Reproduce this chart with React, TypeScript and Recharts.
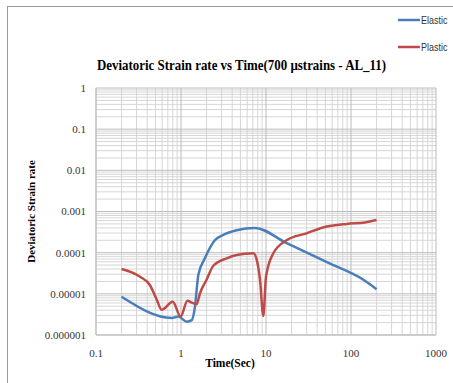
import React from 'react';
import { LineChart, Line, XAxis, YAxis, CartesianGrid, Legend, Label } from 'recharts';

const elasticX = [0.2, 0.78, 0.93, 1.17, 1.34, 1.46, 1.6, 1.91, 2.5, 3.15, 4.5, 7.4, 17.5, 56, 140, 200];
const elasticY = [8.5e-6, 2.6e-6, 2.8e-6, 2.1e-6, 2.3e-6, 4.9e-6, 2.9e-5, 7.3e-5, 2.0e-4, 2.7e-4, 3.5e-4, 4.0e-4, 1.7e-4, 5.5e-5, 2.2e-5, 1.3e-5];

const plasticX = [0.2, 0.33, 0.43, 0.52, 0.59, 0.8, 0.99, 1.19, 1.34, 1.53, 1.67, 2.0, 2.4, 3.45, 4.5, 7.1, 7.8, 8.5, 9.3, 10, 12.2, 17.5, 30, 47, 89, 146, 200];
const plasticY = [4.0e-5, 2.6e-5, 1.64e-5, 7.1e-6, 4.1e-6, 6.4e-6, 2.8e-6, 6.8e-6, 6.1e-6, 5.6e-6, 1.03e-5, 2.2e-5, 4.8e-5, 7.3e-5, 8.8e-5, 9.7e-5, 6.6e-5, 2.2e-5, 2.9e-6, 2.6e-5, 9.7e-5, 2.0e-4, 2.95e-4, 4.1e-4, 5.0e-4, 5.4e-4, 6.2e-4];

const xMajorTicks = [0.1, 1, 10, 100, 1000];
const yMajorTicks = [0.000001, 0.00001, 0.0001, 0.001, 0.01, 0.1, 1];
const xTickLabels = ['0.1', '1', '10', '100', '1000'];
const yTickLabels = ['0.000001', '0.00001', '0.0001', '0.001', '0.01', '0.1', '1'];
const xMinorTicks = [0.2, 0.3, 0.4, 0.5, 0.6, 0.7, 0.8, 0.9, 2, 3, 4, 5, 6, 7, 8, 9, 20, 30, 40, 50, 60, 70, 80, 90, 200, 300, 400, 500, 600, 700, 800, 900];
const yMinorTicks = [
  2e-6, 3e-6, 4e-6, 5e-6, 6e-6, 7e-6, 8e-6, 9e-6,
  2e-5, 3e-5, 4e-5, 5e-5, 6e-5, 7e-5, 8e-5, 9e-5,
  2e-4, 3e-4, 4e-4, 5e-4, 6e-4, 7e-4, 8e-4, 9e-4,
  2e-3, 3e-3, 4e-3, 5e-3, 6e-3, 7e-3, 8e-3, 9e-3,
  0.02, 0.03, 0.04, 0.05, 0.06, 0.07, 0.08, 0.09,
  0.2, 0.3, 0.4, 0.5, 0.6, 0.7, 0.8, 0.9,
];

const seriesNames = ['Elastic', 'Plastic'];
const seriesColors = ['#4a7ebb', '#be4b48'];
const titleText = 'Deviatoric Strain rate vs Time(700 µstrains - AL_11)';

const elasticData = elasticX.map((x, i) => ({ x, y: elasticY[i] }));
const plasticData = plasticX.map((x, i) => ({ x, y: plasticY[i] }));

const fmtX = (v: number) => {
  const i = xMajorTicks.findIndex((t) => Math.abs(t - v) / t < 1e-6);
  return i >= 0 ? xTickLabels[i] : '';
};
const fmtY = (v: number) => {
  const i = yMajorTicks.findIndex((t) => Math.abs(t - v) / t < 1e-6);
  return i >= 0 ? yTickLabels[i] : '';
};

const tickStyle = { fontFamily: '"Liberation Serif", "Times New Roman", serif', fontSize: 11, fill: '#333' };

const LegendContent = () => (
  <svg width={54} height={42} style={{ display: 'block', overflow: 'visible' }}>
    {seriesNames.map((n, i) => (
      <g key={n}>
        <line x1={0} y1={6 + i * 27} x2={22} y2={6 + i * 27} stroke={seriesColors[i]} strokeWidth={2.5} />
        <text
          transform={`translate(23, ${10 + i * 27}) scale(0.78, 1)`}
          style={{ fontFamily: '"Liberation Sans", sans-serif', fontSize: 11.5, fill: '#333' }}
        >
          {n}
        </text>
      </g>
    ))}
  </svg>
);

export default function App() {
  return (
    <div style={{ position: 'absolute', left: 0, top: 0, width: 453, height: 383, background: '#fff', overflow: 'hidden' }}>
      <LineChart width={453} height={383} margin={{ top: 88, right: 17, left: 0, bottom: 0 }}>
        <CartesianGrid
          stroke="#d6d6d6"
          strokeWidth={1}
          verticalValues={xMinorTicks}
          horizontalValues={yMinorTicks}
        />
        <XAxis
          type="number"
          dataKey="x"
          scale="log"
          domain={[0.1, 1000]}
          ticks={xMajorTicks}
          tickFormatter={fmtX}
          allowDataOverflow
          height={48}
          tickSize={0}
          tickMargin={14}
          tick={tickStyle}
          axisLine={{ stroke: '#bfbfbf' }}
          interval={0}
        >
          <Label
            content={({ viewBox }: any) => (
              <text
                x={viewBox.x + viewBox.width / 2 - 36}
                y={viewBox.y + 32}
                textAnchor="middle"
                style={{ fontFamily: '"Liberation Serif", "Times New Roman", serif', fontSize: 11.5, fontWeight: 'bold', fill: '#000' }}
              >
                Time(Sec)
              </text>
            )}
          />
        </XAxis>
        <YAxis
          type="number"
          dataKey="y"
          scale="log"
          domain={[0.000001, 1]}
          ticks={yMajorTicks}
          tickFormatter={fmtY}
          allowDataOverflow
          width={96}
          tickSize={0}
          tickMargin={10}
          tick={tickStyle}
          axisLine={{ stroke: '#bfbfbf' }}
          interval={0}
        >
          <Label
            content={({ viewBox }: any) => {
              const cx = 31;
              const cy = viewBox.y + viewBox.height / 2;
              return (
                <text
                  x={cx}
                  y={cy}
                  transform={`rotate(-90, ${cx}, ${cy})`}
                  textAnchor="middle"
                  dominantBaseline="central"
                  style={{ fontFamily: '"Liberation Serif", "Times New Roman", serif', fontSize: 11, fontWeight: 'bold', fill: '#000' }}
                >
                  Deviatoric Strain rate
                </text>
              );
            }}
          />
        </YAxis>
        <CartesianGrid stroke="#bcbcbc" strokeWidth={1} />
        <Legend
          content={<LegendContent />}
          wrapperStyle={{ position: 'absolute', left: 398, top: 14, width: 0, height: 0, overflow: 'visible' }}
        />
        <Line
          data={elasticData}
          dataKey="y"
          name={seriesNames[0]}
          type="monotone"
          stroke={seriesColors[0]}
          strokeWidth={2.5}
          dot={false}
          isAnimationActive={false}
        />
        <Line
          data={plasticData}
          dataKey="y"
          name={seriesNames[1]}
          type="monotone"
          stroke={seriesColors[1]}
          strokeWidth={2.5}
          dot={false}
          isAnimationActive={false}
        />
      </LineChart>
      <svg width={453} height={383} style={{ position: 'absolute', left: 0, top: 0, pointerEvents: 'none' }}>
        <rect x={7.5} y={6.5} width={470} height={400} fill="none" stroke="#9a9a9a" strokeWidth={1} />
        <text
          x={97}
          y={70}
          textLength={289}
          lengthAdjust="spacingAndGlyphs"
          style={{ fontFamily: '"Liberation Serif", "Times New Roman", serif', fontSize: 15, fontWeight: 'bold', fill: '#000' }}
        >
          {titleText}
        </text>
      </svg>
    </div>
  );
}
